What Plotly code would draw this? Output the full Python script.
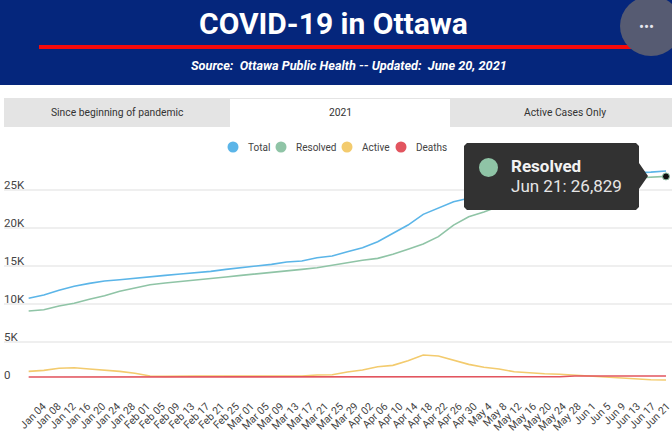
import plotly.graph_objects as go

W, H = 672, 433

dates = ["2021-01-04","2021-01-08","2021-01-12","2021-01-16","2021-01-20","2021-01-24","2021-01-28",
         "2021-02-01","2021-02-05","2021-02-09","2021-02-13","2021-02-17","2021-02-21","2021-02-25",
         "2021-03-01","2021-03-05","2021-03-09","2021-03-13","2021-03-17","2021-03-21","2021-03-25","2021-03-29",
         "2021-04-02","2021-04-06","2021-04-10","2021-04-14","2021-04-18","2021-04-22","2021-04-26","2021-04-30",
         "2021-05-04","2021-05-08","2021-05-12","2021-05-16","2021-05-20","2021-05-24","2021-05-28",
         "2021-06-01","2021-06-05","2021-06-09","2021-06-13","2021-06-17","2021-06-21"]
tick_labels = ["Jan 04","Jan 08","Jan 12","Jan 16","Jan 20","Jan 24","Jan 28",
               "Feb 01","Feb 05","Feb 09","Feb 13","Feb 17","Feb 21","Feb 25",
               "Mar 01","Mar 05","Mar 09","Mar 13","Mar 17","Mar 21","Mar 25","Mar 29",
               "Apr 02","Apr 06","Apr 10","Apr 14","Apr 18","Apr 22","Apr 26","Apr 30",
               "May 4","May 8","May 12","May 16","May 20","May 24","May 28",
               "Jun 1","Jun 5","Jun 9","Jun 13","Jun 17","Jun 21"]
total = [10790,11220,11840,12370,12760,13060,13240,13460,13630,13810,13990,14160,14340,14600,
         14800,15040,15260,15570,15700,16130,16360,16920,17450,18240,19340,20430,21840,22630,23500,23950,
         24400,24900,25400,25800,26150,26450,26700,26900,27050,27150,27300,27400,27550]
resolved = [9120,9290,9780,10130,10660,11130,11710,12100,12580,12800,12980,13150,13370,13590,
            13810,13990,14160,14380,14600,14820,15170,15430,15790,16050,16580,17240,17930,18900,20430,21530,
            22150,22900,23600,24200,24800,25300,25700,26050,26300,26480,26620,26730,26829]
active = [1180,1310,1580,1660,1490,1360,1180,920,570,520,570,570,570,570,
          570,570,520,600,570,700,740,1090,1360,1790,1970,2580,3330,3200,2670,2100,
          1710,1490,1130,960,870,790,660,520,390,260,210,80,40]
deaths = [430,430,430,430,430,430,430,430,430,430,430,430,430,430,
          430,430,430,430,430,430,430,430,430,470,470,470,470,470,470,470,
          470,470,470,470,470,470,560,560,560,560,560,560,560]
y_ticks = [0,5000,10000,15000,20000,25000]
y_labels = ["0","5K","10K","15K","20K","25K"]
series_names = ["Total","Resolved","Active","Deaths"]
series_colors = ["#5bb5e8","#8fc4a6","#f3cb6e","#e2555f"]

def px(x): return x / W
def py(y): return 1 - y / H

# plot area (pixels)
L, R, T, B = 4, 672, 132, 381
FONT = "Roboto"

fig = go.Figure()
for name, vals, col in zip(series_names, [total, resolved, active, deaths], series_colors):
    fig.add_trace(go.Scatter(x=dates, y=vals, name=name, mode="lines",
                             line=dict(color=col, width=1.6), showlegend=False, hoverinfo="skip"))
fig.add_trace(go.Scatter(x=dates[-1:], y=resolved[-1:], mode="markers", name="Resolved point", showlegend=False,
                         marker=dict(color="#111111", size=7, line=dict(color="#8fc4a6", width=1))))
# carrier for the label axis
fig.add_trace(go.Scatter(x=dates, y=[None]*len(dates), xaxis="x2", mode="lines", showlegend=False, hoverinfo="skip"))

shapes = []
def rect(x0, y0, x1, y1, color):
    shapes.append(dict(type="rect", xref="paper", yref="paper", x0=px(x0), x1=px(x1), y0=py(y0), y1=py(y1),
                       fillcolor=color, line=dict(width=0), layer="above"))
def ell(x0, y0, x1, y1, color):
    shapes.append(dict(type="circle", xref="paper", yref="paper", x0=px(x0), x1=px(x1), y0=py(y0), y1=py(y1),
                       fillcolor=color, line=dict(width=0), layer="above"))
def path(pts, color):
    d = "M " + " L ".join(f"{px(a):.5f},{py(b):.5f}" for a, b in pts) + " Z"
    shapes.append(dict(type="path", xref="paper", yref="paper", path=d, fillcolor=color, line=dict(width=0), layer="above"))

rect(0, 0, W, 85, "#05267c")
rect(39, 45, 640, 49, "#f50a0a")
ell(620, -4, 682, 56, "#565b72")
rect(4, 98, W, 127, "#e4e4e4")
rect(230, 99, 450, 128, "#ffffff")

# tooltip
path([(467,143),(636,143),(639,146),(639,163),(648,176),(639,189),(639,207),(636,210),(467,210),(464,207),(464,146)], "#323232")
ell(479, 158, 498, 177, "#8fc4a6")

ann = []
def text(x, y, s, size, color, anchor="center", **kw):
    ann.append(dict(xref="paper", yref="paper", x=px(x), y=py(y), text=s, showarrow=False, xanchor=anchor, yanchor="middle",
                    font=dict(family=FONT, size=size, color=color), **kw))

text(333, 24, "<b>COVID-19 in Ottawa</b>", 30, "#ffffff")
text(349, 66, "<b><i>Source:  Ottawa Public Health -- Updated:  June 20, 2021</i></b>", 12.7, "#ffffff")
text(646.5, 27, "•••", 15, "#e6e6ee")
text(117, 112, "Since beginning of pandemic", 10.3, "#333333")
text(340, 112, "2021", 10.3, "#333333")
text(565, 112, "Active Cases Only", 10.3, "#333333")
text(508.5, 166, "<b>Resolved</b>", 17, "#f2f2f2", anchor="left")
text(508.5, 186, "Jun 21: 26,829", 17, "#e6e6e6", anchor="left")

leg_x = [233, 281, 347, 401]
for x, name, col in zip(leg_x, series_names, series_colors):
    ell(x-5.5, 141.5, x+5.5, 152.5, col)
    text(x+12.5, 147, name, 10, "#444444", anchor="left")

x_range = ["2020-12-28 12:00", "2021-06-22 14:00"]
x2_range = ["2020-12-24 12:00", "2021-06-22 08:00"]

fig.update_layout(
    width=W, height=H, margin=dict(l=0, r=0, t=0, b=0), autosize=False,
    paper_bgcolor="#ffffff", plot_bgcolor="#ffffff", showlegend=False,
    font=dict(family=FONT, color="#444444", size=11),
    shapes=shapes, annotations=ann,
    xaxis=dict(domain=[px(L), px(R)], type="date", range=x_range, showgrid=False, showticklabels=False,
               zeroline=False, showline=False, ticks=""),
    xaxis2=dict(domain=[px(L), px(R)], type="date", range=x2_range, overlaying="x", anchor="y", side="bottom",
                showgrid=False, zeroline=False, showline=False, ticks="", ticklabeloverflow="allow",
                tickmode="array", tickvals=dates, ticktext=tick_labels, tickangle=-45,
                tickfont=dict(family=FONT, size=10.5, color="#444444"), ticklabelstandoff=16),
    yaxis=dict(domain=[py(B), py(T)], range=[-90, (B-T)/38*5000-90], tickmode="array", tickvals=y_ticks, ticktext=y_labels,
               ticklabelposition="inside top", ticklabelstandoff=-3, ticklabelshift=3, ticklabeloverflow="allow",
               showgrid=True, gridcolor="#efefef", gridwidth=2, zeroline=False,
               showline=False, ticks="", tickfont=dict(family=FONT, size=11.5, color="#444444")),
)
fig.write_html("out.html", config={"displayModeBar": False},
               post_script="document.documentElement.style.margin='0';document.body.style.margin='0';document.body.style.overflow='hidden';")
